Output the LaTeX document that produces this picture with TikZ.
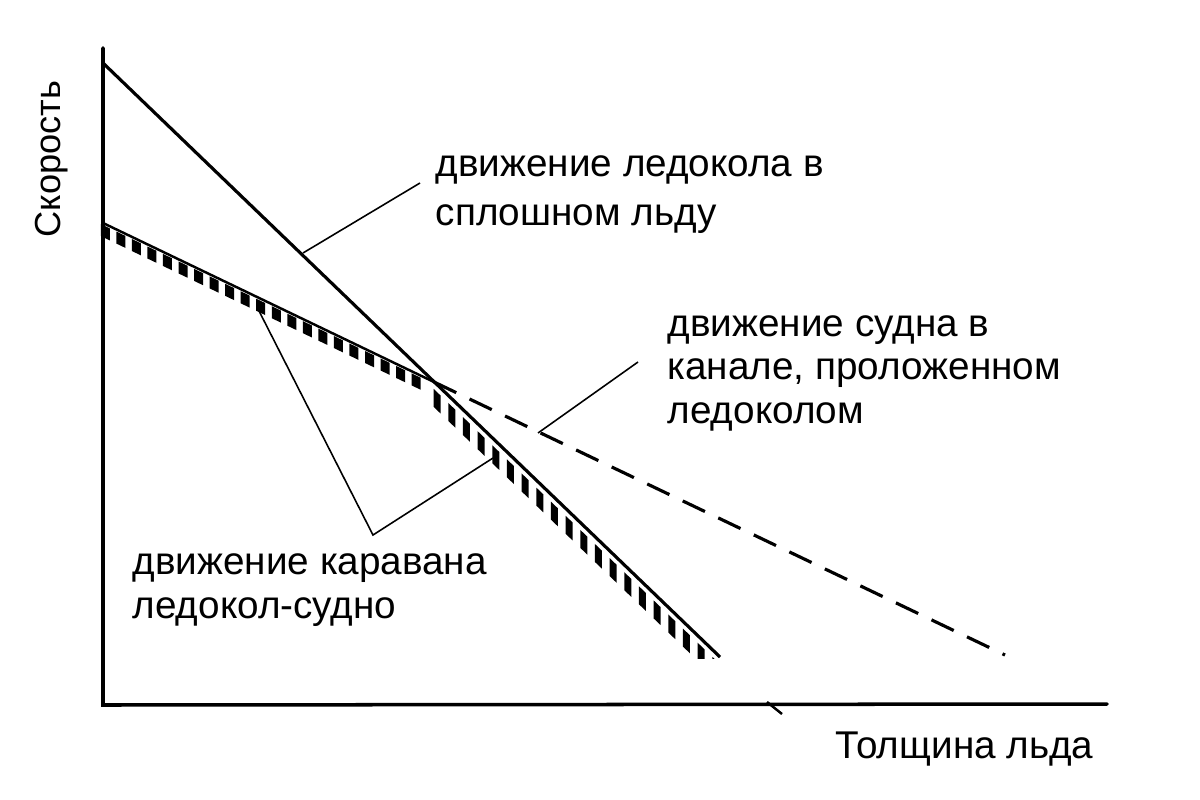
\documentclass[tikz,border=0pt]{standalone}
\usepackage{fontspec}
\setmainfont{Liberation Sans}
\usetikzlibrary{calc}
\begin{document}
\begin{tikzpicture}[x=0.01cm,y=-0.01cm,
  axis/.style={line width=1pt,line cap=round},
  curve/.style={line width=0.9pt},
  shipline/.style={line width=0.9pt,dash pattern=on 7pt off 4.2pt},
  leader/.style={line width=0.45pt},
  lbl/.style={inner sep=0pt,anchor=base west,align=left},
  txtA/.style={font=\fontsize{11}{13.66}\selectfont},
  txtB/.style={font=\fontsize{11}{12.25}\selectfont}]
\useasboundingbox (0,0) rectangle (1200,800);
% coordinates
\coordinate (o) at (103,705);
\coordinate (ytop) at (103,48);
\coordinate (xend) at (1107,704);
\coordinate (a0) at (103,63);
\coordinate (a1) at (720,657);
\coordinate (b0) at (103,223);
\coordinate (c) at (434,382);
\coordinate (b1) at (1005,655);
\coordinate (tk0) at (767,702);
\coordinate (tk1) at (782,714);
% axes
\draw[axis] (ytop) -- (o) -- (xend);
\draw[line width=0.7pt] (tk0) -- (tk1);
% icebreaker in solid ice
\draw[curve] (a0) -- (a1);
% ship in channel
\draw[shipline] (c) -- (b1);
% convoy (hatched)
\draw[line width=0.7pt] (b0) -- (c);
\foreach \i in {0,...,20}{
  \fill ($(b0)!{(\i+0.15)/21.3}!(c)$) ++(-4.5,0) -- ++(9,4.3) -- ++(0,12) -- ++(-9,-4.3) -- cycle;
}
\begin{scope}
\clip (0,0) rectangle (1200,658);
\foreach \i in {0,...,19}{
  \fill ($(c)!{(\i+0.45)/19.5}!(a1)$) ++(-7,0.5) -- ++(7,6.7) -- ++(0,18) -- ++(-7,-6.7) -- cycle;
}
\end{scope}
% labels
\node[lbl,txtA] (l1) at (435,225) {движение ледокола в\\сплошном льду};
\node[lbl,txtB] (l2) at (667,423) {движение судна в\\канале, проложенном\\ледоколом};
\node[lbl,txtB] (l3) at (132,618) {движение каравана\\ледокол-судно};
\node[lbl,txtB] (lx) at (835,758) {Толщина льда};
\node[inner sep=0pt,rotate=90,font=\fontsize{10.3}{12}\selectfont] (ly) at (52,159) {Скорость};
% leader lines
\coordinate (p1) at (303,253);
\coordinate (q1) at (420,183);
\coordinate (p2) at (538,433);
\coordinate (q2) at (638,362);
\coordinate (v3) at (373,535);
\coordinate (p3a) at (257,307);
\coordinate (p3b) at (493,458);
\draw[leader] (p1) -- (q1);
\draw[leader] (p2) -- (q2);
\draw[leader] (p3a) -- (v3) -- (p3b);
\end{tikzpicture}
\end{document}
